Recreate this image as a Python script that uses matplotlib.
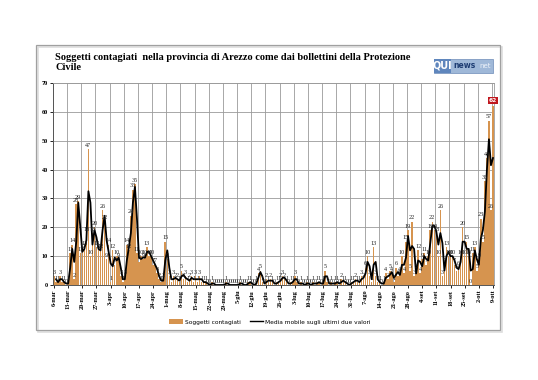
import matplotlib
matplotlib.use("Agg")
import matplotlib.pyplot as plt
import pandas as pd
from matplotlib.patches import Rectangle, Patch
from matplotlib.lines import Line2D

# --- DATA (daily new cases, 6-mar .. 9-ott) ---
tick_labels = ["6-mar", "13-mar", "20-mar", "27-mar", "3-apr", "10-apr", "17-apr", "24-apr",
               "1-mag", "8-mag", "15-mag", "22-mag", "29-mag", "5-giu", "12-giu", "19-giu",
               "26-giu", "3-lug", "10-lug", "17-lug", "24-lug", "31-lug", "7-ago", "14-ago",
               "21-ago", "28-ago", "4-set", "11-set", "18-set", "25-set", "2-ott", "9-ott"]

cases = [
    3, 1, 1, 3, 1, 1, 0,          # 6-mar
    1, 11, 14, 2, 28, 29, 11,     # 13-mar
    12, 13, 18, 47, 10, 18, 20,   # 20-mar
    13, 12, 12, 26, 22, 9, 14,    # 27-mar
    1, 12, 7, 10, 9, 3, 1,        # 3-apr
    3, 14, 12, 24, 33, 35, 11,    # 10-apr
    8, 10, 9, 10, 13, 10, 10,     # 17-apr
    7, 7, 4, 2, 1, 2, 15,         # 24-apr
    9, 3, 1, 3, 2, 2, 1,          # 1-mag
    5, 2, 3, 1, 2, 3, 1,          # 8-mag
    3, 1, 3, 1, 1, 1, 0,          # 15-mag
    0, 1, 0, 0, 0, 0, 0,          # 22-mag
    0, 1, 0, 0, 0, 0, 0,          # 29-mag
    0, 1, 0, 0, 0, 1, 1,          # 5-giu
    0, 0, 1, 4, 5, 1, 0,          # 12-giu
    2, 1, 2, 1, 0, 1, 1,          # 19-giu
    2, 3, 2, 1, 0, 1, 1,          # 26-giu
    3, 1, 0, 1, 0, 0, 1,          # 3-lug
    0, 0, 1, 0, 1, 1, 0,          # 10-lug
    1, 5, 1, 0, 1, 0, 1,          # 17-lug
    1, 0, 2, 1, 1, 0, 0,          # 24-lug
    1, 1, 2, 1, 1, 3, 2,          # 31-lug
    6, 10, 3, 1, 13, 3, 1,        # 7-ago
    1, 0, 1, 4, 2, 5, 4,          # 14-ago
    1, 6, 3, 4, 10, 4, 15,        # 21-ago
    19, 5, 22, 3, 5, 12, 4,       # 28-ago
    9, 11, 7, 10, 19, 22, 19,     # 4-set
    18, 10, 26, 3, 7, 13, 10,     # 11-set
    10, 10, 7, 5, 6, 10, 20,      # 18-set
    10, 15, 10, 0, 11, 13, 5,     # 25-set
    9, 23, 15, 36, 44, 57, 26,    # 2-ott
    62,                           # 9-ott
]

title = "Soggetti contagiati  nella provincia di Arezzo come dai bollettini della Protezione\nCivile"
bar_label = "Soggetti contagiati"
line_label = "Media mobile sugli ultimi due valori"

# --- derived ---
idx = list(range(len(cases)))
media = pd.Series(cases).rolling(2).mean()   # 2-day moving average as in the legend

BAR_C = "#d6944f"
W, H = 538, 380
SERIF = "Liberation Serif"

fig = plt.figure(figsize=(W / 100, H / 100), dpi=100)
fig.patch.set_facecolor("white")

# outer frame of the excel chart (with a faint shadow)
fig.patches.append(Rectangle((38 / W, 1 - 332 / H), (500 - 36) / W, (330 - 45) / H,
                             transform=fig.transFigure, fill=False, ec="#dddddd", lw=1.2,
                             zorder=-2))
fig.patches.append(Rectangle((36 / W, 1 - 330 / H), (500 - 36) / W, (330 - 45) / H,
                             transform=fig.transFigure, fill=False, ec="#a0a0a0", lw=0.9,
                             zorder=-1))

ax = fig.add_axes([53 / W, 1 - 285 / H, (494 - 53) / W, (285 - 83) / H])
ax.bar(idx, cases, width=0.78, color=BAR_C, zorder=2)
ax.plot(idx, media, color="black", lw=1.3, zorder=3)

for i, v in enumerate(cases):
    if i == len(cases) - 1:
        ax.text(i, v + 1.2, str(v), ha="center", va="bottom", fontsize=4.3, color="white",
                fontweight="bold", zorder=5,
                bbox=dict(boxstyle="square,pad=0.15", fc="#c0171e", ec="none"))
    else:
        ax.text(i, v + 0.5, str(v), ha="center", va="bottom", fontsize=4.4, color="#222222",
                fontfamily=SERIF, zorder=4)

ax.set_xlim(-0.5, len(cases) - 0.5)
ax.set_ylim(0, 70)
ax.set_yticks(range(0, 71, 10))
ax.set_yticklabels([str(v) for v in range(0, 71, 10)], fontsize=4.5,
                   fontweight="bold", fontfamily=SERIF)
ax.set_xticks(idx[::7])
ax.set_xticklabels(tick_labels, rotation=90, fontsize=4.5, fontweight="bold", fontfamily=SERIF)
ax.tick_params(axis="both", length=2, width=0.6, pad=1.5)

ax.set_xticks([k - 0.5 for k in idx[::7]] + [len(cases) - 0.5], minor=True)
ax.tick_params(axis="x", which="minor", length=0)
ax.grid(axis="x", which="minor", color="#9a9a9a", lw=0.6, zorder=0)
ax.grid(axis="y", which="major", color="#9a9a9a", lw=0.6, zorder=0)
ax.set_axisbelow(True)
for s in ["top", "right"]:
    ax.spines[s].set_color("#9a9a9a")
    ax.spines[s].set_linewidth(0.6)
for s in ["left", "bottom"]:
    ax.spines[s].set_color("#555555")
    ax.spines[s].set_linewidth(0.7)

# title
fig.text(55 / W, 1 - 53 / H, title, ha="left", va="top", fontsize=7.5,
         fontweight="bold", fontfamily=SERIF, linespacing=1.1)

# logo
fig.patches.append(Rectangle((434 / W, 1 - 73 / H), 59 / W, 14 / H, transform=fig.transFigure,
                             fc="#9fb8d8", ec="#7d99c0", lw=0.6))
fig.patches.append(Rectangle((434 / W, 1 - 73 / H), 17 / W, 14 / H, transform=fig.transFigure,
                             fc="#5f86bd", ec="none"))
fig.text(442.5 / W, 1 - 66 / H, "QUI", ha="center", va="center", fontsize=7,
         fontweight="bold", color="white")
fig.text(465 / W, 1 - 66 / H, "news", ha="center", va="center", fontsize=5.5,
         fontweight="bold", color="#1e3d73")
fig.text(485 / W, 1 - 66 / H, "net", ha="center", va="center", fontsize=5,
         color="#eef3fa")

# legend
handles = [Patch(fc=BAR_C, ec="none"), Line2D([], [], color="black", lw=1)]
fig.legend(handles, [bar_label, line_label], loc="center", ncol=2,
           bbox_to_anchor=((178 + 362) / 2 / W, 1 - 322 / H), frameon=False,
           prop={"size": 4.2}, handlelength=2.3, handleheight=0.7, columnspacing=1.6,
           handletextpad=0.3)

fig.savefig("out.png", dpi=100, facecolor="white")
